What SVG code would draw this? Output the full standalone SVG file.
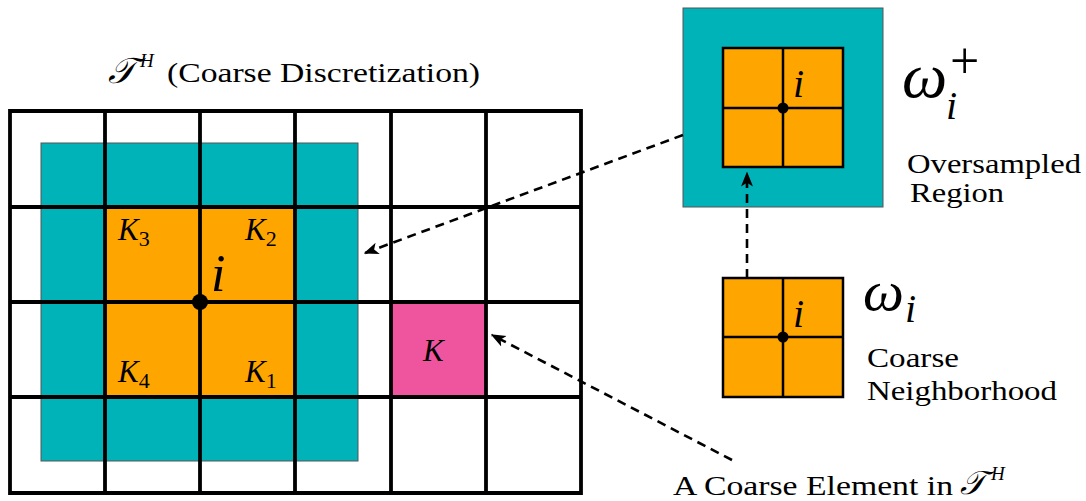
<svg xmlns="http://www.w3.org/2000/svg" width="1086" height="501" viewBox="0 0 1086 501">
<style>
.teal{fill:#00b3b9;stroke:#555;stroke-width:1}
.org{fill:#ffa500}
.pink{fill:#ef559f}
.grid{stroke:#000;stroke-width:3.8;fill:none;stroke-linecap:square}
.thin{stroke:#000;stroke-width:2.5;fill:none}
.dash{stroke:#000;stroke-width:2.6;fill:none;stroke-dasharray:9 6}
.rm{font-family:'Liberation Serif','Times New Roman',serif;fill:#000}
.it{font-family:'Liberation Serif','Times New Roman',serif;font-style:italic;fill:#000}
</style>
<defs>
<marker id="ahb" viewBox="0 0 10 10" refX="9" refY="5" markerWidth="15" markerHeight="15" orient="auto" markerUnits="userSpaceOnUse">
<path d="M0,1 L10,5 L0,9 L2.5,5 Z" fill="#000"/>
</marker>
</defs>
<rect width="1086" height="501" fill="#fff"/>

<g id="title">
<text class="it" x="108" y="83" font-size="36">𝒯</text>
<text class="it" x="140" y="67" font-size="19">H</text>
<text class="rm" x="167" y="82" font-size="28" textLength="313" lengthAdjust="spacingAndGlyphs">(Coarse Discretization)</text>
</g>

<g id="coarse-grid">
<rect class="teal" x="41" y="143" width="317" height="318"/>
<rect class="org" x="105" y="207" width="190" height="190"/>
<rect class="pink" x="391" y="302" width="95" height="95"/>
<path class="grid" d="M10,111 H581 V493 H10 Z M105,111 V493 M200,111 V493 M295,111 V493 M391,111 V493 M486,111 V493 M10,207 H581 M10,302 H581 M10,397 H581"/>
<circle cx="200" cy="302" r="8" fill="#000"/>
<text class="it" x="118" y="240" font-size="31">K<tspan font-size="22" dy="6" font-style="normal">3</tspan></text>
<text class="it" x="245" y="240" font-size="31">K<tspan font-size="22" dy="6" font-style="normal">2</tspan></text>
<text class="it" x="118" y="382" font-size="31">K<tspan font-size="22" dy="6" font-style="normal">4</tspan></text>
<text class="it" x="245" y="382" font-size="31">K<tspan font-size="22" dy="6" font-style="normal">1</tspan></text>
<text class="it" x="211" y="291" font-size="52">i</text>
<text class="it" x="423" y="361" font-size="31">K</text>
</g>

<g id="oversampled">
<rect class="teal" x="683" y="8" width="200" height="199"/>
<rect class="org" x="723" y="48" width="120" height="119"/>
<path class="thin" d="M723,48 H843 V167 H723 Z M783,48 V167 M723,108 H843"/>
<circle cx="783" cy="108" r="5.5" fill="#000"/>
<text class="it" x="793" y="97" font-size="40">i</text>
<text class="it" x="902" y="97" font-size="64">ω</text>
<text class="it" x="946" y="119" font-size="40">i</text>
<text class="rm" x="950" y="78" font-size="52">+</text>
<text class="rm" x="907" y="173" font-size="28" textLength="174" lengthAdjust="spacingAndGlyphs">Oversampled</text>
<text class="rm" x="910" y="202" font-size="28" textLength="94" lengthAdjust="spacingAndGlyphs">Region</text>
</g>

<g id="neighborhood">
<rect class="org" x="723" y="278" width="120" height="119"/>
<path class="thin" d="M723,278 H843 V397 H723 Z M783,278 V397 M723,337 H843"/>
<circle cx="783" cy="337" r="5.5" fill="#000"/>
<text class="it" x="793" y="327" font-size="40">i</text>
<text class="it" x="863" y="310" font-size="58">ω</text>
<text class="it" x="905" y="322" font-size="40">i</text>
<text class="rm" x="867" y="367" font-size="28" textLength="92" lengthAdjust="spacingAndGlyphs">Coarse</text>
<text class="rm" x="867" y="400" font-size="28" textLength="190" lengthAdjust="spacingAndGlyphs">Neighborhood</text>
</g>

<g id="element-label">
<text class="rm" x="673" y="495" font-size="28" textLength="280" lengthAdjust="spacingAndGlyphs">A Coarse Element in</text>
<text class="it" x="960" y="494" font-size="33">𝒯</text>
<text class="it" x="991" y="480" font-size="19">H</text>
</g>

<g id="connectors">
<path class="dash" d="M683,135 L365,253" marker-end="url(#ahb)"/>
<path class="dash" d="M747,278 L747,173" marker-end="url(#ahb)"/>
<path class="dash" d="M732,460 L492,335" marker-end="url(#ahb)"/>
</g>
</svg>
